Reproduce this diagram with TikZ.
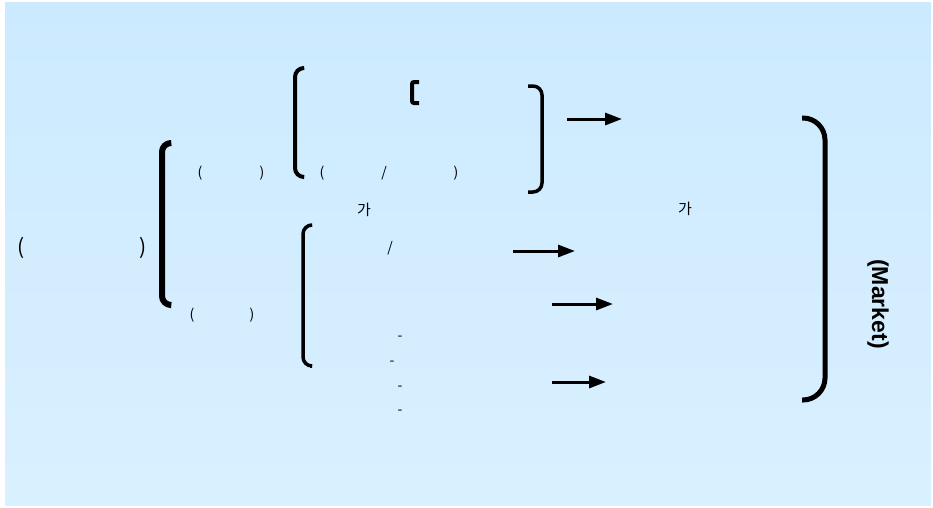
\documentclass[tikz,border=0pt]{standalone}
\usepackage{fontspec}
\setmainfont{Noto Sans CJK KR}
\newfontfamily\marketfont{Liberation Sans}
\usetikzlibrary{arrows.meta}

\definecolor{bgtop}{RGB}{204,234,255}
\definecolor{bgbot}{RGB}{217,240,255}

\begin{document}
\begin{tikzpicture}[x=1pt,y=-1pt,
  brace/.style={line width=#1,rounded corners=9pt},
  brace/.default=3.5pt,
  flow/.style={line width=3pt,-{Triangle[length=17pt,width=12pt]}},
  lbl/.style={inner sep=0pt,font=\fontsize{14}{14}\selectfont},
  biglbl/.style={inner sep=0pt,font=\fontsize{21}{21}\selectfont}]
  \useasboundingbox (0,0) rectangle (933,507);
  \shade[top color=bgtop,bottom color=bgbot] (5,2) rectangle (931,505);

  % Coordinates
  \coordinate (outer) at (170,143);
  \coordinate (upper) at (303,68);
  \coordinate (lower) at (310,225);
  \coordinate (close) at (528,86);
  \coordinate (market) at (802,118);

  % Brackets
  \draw[brace=6pt] (outer) -- ++(-8,0) -- ++(0,162) -- ++(8,0);
  \draw[brace=4pt] (upper) -- ++(-8,0) -- ++(0,109) -- ++(8,0);
  \draw[brace] (lower) -- ++(-7,0) -- ++(0,141) -- ++(7,0);
  \draw[brace] (close) -- ++(14,0) -- ++(0,106) -- ++(-14,0);
  \draw[brace=5pt,rounded corners=22pt] (market) -- ++(23,0) -- ++(0,282) -- ++(-23,0);
  \draw[line width=4pt,rounded corners=2pt] (419,82) -- ++(-7,0) -- ++(0,21) -- ++(7,0);

  % Labels
  \node[biglbl] (pa) at (21,248) {(};
  \node[biglbl] (pb) at (143,248) {)};
  \node[lbl] (pc) at (200,173) {(};
  \node[lbl] (pd) at (262,173) {)};
  \node[lbl] (pe) at (192,315) {(};
  \node[lbl] (pf) at (252,315) {)};
  \node[lbl] (pg) at (322,173) {(};
  \node[lbl] (sa) at (384,173) {/};
  \node[lbl] (ph) at (456,173) {)};
  \node[lbl,font=\fontsize{15}{15}\selectfont] (ga) at (364,210) {가};
  \node[lbl,font=\fontsize{15}{15}\selectfont] (gb) at (685,209) {가};
  \node[lbl] (sb) at (390,248) {/};
  \foreach \x/\y [count=\i] in {400/338,392/363,400/388,400/412}
    \node[lbl] (d\i) at (\x,\y) {-};
  \node[inner sep=0pt,rotate=-90,font=\marketfont\bfseries\fontsize{23}{23}\selectfont]
    (mk) at (878,304) {(Market)};

  % Arrows
  \coordinate (a1) at (567,119);  \coordinate (b1) at (622,119);
  \coordinate (a2) at (513,251);  \coordinate (b2) at (575,251);
  \coordinate (a3) at (552,304);  \coordinate (b3) at (613,304);
  \coordinate (a4) at (552,382);  \coordinate (b4) at (606,382);
  \foreach \i in {1,...,4}
    \draw[flow] (a\i) -- (b\i);

\end{tikzpicture}
\end{document}
